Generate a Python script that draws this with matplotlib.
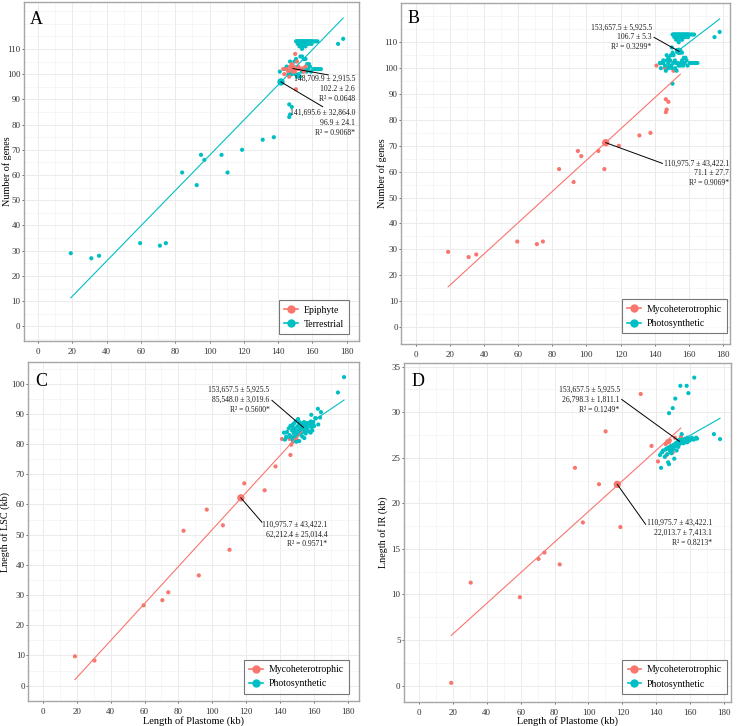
import numpy as np
import matplotlib
matplotlib.use("Agg")
import matplotlib.pyplot as plt
from matplotlib.lines import Line2D
from matplotlib.ticker import MultipleLocator

plt.rcParams["font.family"] = ["Liberation Serif", "DejaVu Serif"]

RED = "#F8766D"
TEAL = "#00BFC4"

# ---------- gene number (panels A and B) ----------
# mycoheterotrophic species (all terrestrial)
myco_len = [19, 31, 35.5, 59.5, 71, 74.5, 84, 92.5, 95, 97, 107, 110.5, 119, 131,
            137.5, 146.5, 147, 146.5, 148, 141, 146, 147.5, 149, 151, 155]
myco_genes = [29, 27, 28, 33, 32, 33, 61, 56, 68, 66, 68, 61, 70, 74,
              75, 83, 84, 88, 87, 101, 100, 100, 103, 99, 106]

# photosynthetic, terrestrial
photo_terr_len = [150.5, 151, 151.5, 152, 152.5, 153, 153.5, 154, 154.5, 155, 155.5, 156,
                  156.5, 157, 157.5, 158, 158.5, 159, 159.5, 160, 161, 162, 163,
                  151.5, 153, 154, 155.5, 157, 158, 159.5, 175,
                  152.5, 154.5, 156, 154, 178,
                  147, 149.5, 154, 156, 153, 150.5,
                  148, 150, 152.8, 157, 158.6, 160.5, 163.4, 165, 159.2, 156.7,
                  155.5, 154, 157.5, 161.5, 158, 145, 152, 144, 162.5, 164]
photo_terr_genes = [113, 113, 113, 113, 113, 113, 113, 113, 113, 113, 113, 113,
                    113, 113, 113, 113, 113, 113, 113, 113, 113, 113, 113,
                    112, 112, 112, 112, 112, 112, 112, 112,
                    111, 111, 111, 110, 114,
                    105, 105, 107, 106, 107, 106,
                    100, 100, 99, 104, 103, 102, 102, 102, 101, 101,
                    102, 101, 102, 102, 104, 103, 100, 102, 102, 102]

# photosynthetic, epiphyte
photo_epi_len = [143, 143.6, 145, 146, 147, 147.9, 148.5, 149, 149.8, 150.8, 151.8,
                 152.5, 153.7, 155.1, 156, 150.4, 150, 151, 148, 146.5]
photo_epi_genes = [102, 100, 102, 101, 103, 102, 101, 103, 101, 102, 103,
                   102, 102, 101, 103, 94, 108, 105, 104, 99]

# ---------- LSC / IR length (panels C and D) ----------
myco_len_c = [19, 30.5, 59.5, 70.5, 74, 83, 92, 96.7, 106.2, 110.1, 118.8, 130.8,
              137.2, 141, 146, 145.5, 146.5, 147.5, 148, 149.7, 151, 154.5]
myco_lsc = [9.7, 8.3, 26.6, 28.3, 30.9, 51.3, 36.5, 58.3, 53.1, 45.0, 67.0, 64.7,
            72.6, 81.7, 76.4, 81.7, 79.8, 80.8, 82.2, 81.5, 83.5, 84.5]
myco_ir = [0.3, 11.3, 9.7, 13.9, 14.6, 13.3, 23.9, 17.9, 22.1, 27.9, 17.4, 32.0,
           26.3, 24.6, 25.3, 26.5, 26.8, 26.7, 26.9, 25.6, 27.2, 27.3]

photo_len_c = [142.2, 142.8, 143.5, 144, 145, 145.5, 146, 146.5, 147, 147, 147.5, 147.5,
               148, 148, 148.5, 148.5, 149, 149, 149.5, 149.7, 150, 150, 150.5, 150.6,
               151, 151.2, 151.5, 151.5, 152, 152, 152.5, 152.5, 153, 153, 153.5, 153.5,
               154, 154, 154.2, 154.5, 155, 155, 155.5, 155.5, 156, 156, 156.5, 157,
               157, 157.5, 157.9, 158, 158.3, 158.5, 158.9, 159, 159.5, 160, 160.6, 161,
               162.2, 162.4, 163.5, 164, 174, 177.6]
photo_lsc = [83.8, 81.5, 82.5, 84.0, 85.2, 83.0, 86.0, 82.2, 84.5, 86.3, 85.5, 81.2,
             83.8, 86.8, 82.5, 85.0, 84.2, 87.5, 80.8, 83.5, 85.8, 82.8, 88.3, 84.6,
             86.5, 81.0, 84.0, 87.2, 85.3, 83.2, 86.8, 84.5, 85.8, 82.5, 86.2, 84.0,
             85.5, 87.3, 82.0, 84.8, 86.0, 83.5, 85.2, 87.0, 84.5, 86.5, 85.8, 87.0,
             84.2, 86.2, 83.8, 87.5, 89.7, 85.5, 84.5, 86.8, 87.3, 86.0, 88.6, 88.5,
             91.7, 86.5, 88.8, 90.6, 97.1, 102.2]
photo_ir = [25.3, 23.9, 25.6, 25.8, 25.1, 25.9, 26.0, 25.4, 24.5, 26.1, 24.3, 29.9,
            25.8, 26.2, 25.6, 26.0, 25.5, 26.3, 25.9, 30.45, 26.4, 26.0, 26.2, 24.9,
            26.5, 31.5, 26.3, 26.6, 26.4, 25.8, 26.7, 26.5, 26.6, 26.2, 26.8, 26.5,
            26.7, 26.9, 32.9, 26.6, 26.8, 27.6, 26.7, 27.0, 26.6, 26.9, 26.8, 27.1,
            26.7, 27.0, 32.9, 26.9, 26.7, 27.2, 32.1, 27.0, 26.9, 27.1, 27.0, 27.2,
            27.0, 33.8, 27.2, 27.1, 27.6, 27.05]

# regression lines (slope, intercept)
fit_a_epi = (0.12, 84.36)
fit_a_terr = (0.6976, -1.95)
fit_b_myco = (0.604, 4.02)
fit_b_photo = (0.506, 28.93)
fit_c_myco = (0.614, -9.67)
fit_c_photo = (0.38, 27.1)
fit_d_myco = (0.168, 2.31)
fit_d_photo = (0.106, 10.51)

# group mean markers
mean_a = [(148.7, 102.2), (141.7, 96.9)]
mean_b = [(111.3, 71.2), (154.2, 106.5)]
mean_c = [(116.8, 62.2), (153.7, 85.5)]
mean_d = [(117.0, 22.08), (153.7, 26.8)]

labels_a = ["148,709.9 ± 2,915.5\n102.2 ± 2.6\nR² = 0.0648",
            "141,695.6 ± 32,864.0\n96.9 ± 24.1\nR² = 0.9068*"]
labels_b = ["110,975.7 ± 43,422.1\n71.1 ± 27.7\nR² = 0.9069*",
            "153,657.5 ± 5,925.5\n106.7 ± 5.3\nR² = 0.3299*"]
labels_c = ["110,975.7 ± 43,422.1\n62,212.4 ± 25,014.4\nR² = 0.9571*",
            "153,657.5 ± 5,925.5\n85,548.0 ± 3,019.6\nR² = 0.5600*"]
labels_d = ["110,975.7 ± 43,422.1\n22,013.7 ± 7,413.1\nR² = 0.8213*",
            "153,657.5 ± 5,925.5\n26,798.3 ± 1,811.1\nR² = 0.1249*"]
# label anchor (right x, middle line y) and segment end
label_pos_a = [(184.9, 94.2, 169.3, 99.7), (184.9, 80.7, 166.0, 87.1)]
label_pos_b = [(183.5, 59.4, 144.5, 63.2), (138.2, 111.9, 139.6, 111.9)]
label_pos_c = [(167.9, 50.1, 129.2, 54.1), (133.7, 94.7, 135.1, 94.5)]
label_pos_d = [(173.0, 16.74, 133.7, 17.7), (118.4, 31.36, 119.6, 31.4)]

fig = plt.figure(figsize=(7.38, 7.26), dpi=100)


def px_axes(left, top, right, bottom):
    return fig.add_axes([left / 738, 1 - bottom / 726, (right - left) / 738, (bottom - top) / 726])


def style(ax, xlim, ylim, yticks, yminor):
    ax.set_xlim(*xlim)
    ax.set_ylim(*ylim)
    ax.set_xticks(np.arange(0, 181, 20))
    ax.xaxis.set_minor_locator(MultipleLocator(10))
    ax.set_yticks(yticks)
    ax.yaxis.set_minor_locator(MultipleLocator(yminor))
    ax.grid(which="major", color="#EBEBEB", lw=0.7)
    ax.grid(which="minor", color="#F3F3F3", lw=0.5)
    ax.set_axisbelow(True)
    ax.tick_params(which="minor", length=0)
    ax.tick_params(which="major", length=1.5, width=0.6, color="#555555",
                   labelsize=6.5, labelcolor="#333333", pad=1.0)
    ax.tick_params(axis="x", which="major", pad=3.5)
    for s in ax.spines.values():
        s.set_color("#A6A6A6")
        s.set_linewidth(1.0)


def draw_group(ax, xs, ys, fit, color):
    ax.scatter(xs, ys, s=9, color=color, edgecolors="none", zorder=2)
    xr = np.array([min(xs), max(xs)])
    ax.plot(xr, fit[0] * xr + fit[1], color=color, lw=0.8, zorder=3)


def annotate(ax, means, colors, labels, positions):
    for (mx, my), c, lab, (tx, ty, sx, sy) in zip(means, colors, labels, positions):
        ax.scatter([mx], [my], s=28, color=c, edgecolors="none", zorder=4)
        ax.plot([mx, sx], [my, sy], color="black", lw=0.7, zorder=5)
        ax.text(tx, ty, lab, ha="right", va="center", multialignment="right",
                fontsize=5.5, linespacing=1.3, color="#1a1a1a", zorder=6)


def legend(ax, names, anchor):
    handles = [Line2D([0], [0], color=c, marker="o", markersize=5, lw=1.2)
               for c in (RED, TEAL)]
    leg = ax.legend(handles, names, loc="lower right", bbox_to_anchor=anchor,
                    borderaxespad=0, fontsize=7, frameon=True, fancybox=False,
                    handlelength=1.4, handletextpad=0.6, labelspacing=0.55,
                    borderpad=0.55)
    leg.get_frame().set_edgecolor("#555555")
    leg.get_frame().set_linewidth(0.8)
    leg.set_zorder(10)


def panel_letter(ax, letter, x, y):
    ax.text(x, y, letter, transform=ax.transAxes, fontsize=13, ha="left", va="center")


# ---- A ----
axA = px_axes(24, 2, 359.3, 341)
style(axA, (-8.3, 187.4), (-5.8, 128.6), np.arange(0, 111, 10), 5)
draw_group(axA, myco_len + photo_terr_len, myco_genes + photo_terr_genes, fit_a_terr, TEAL)
draw_group(axA, photo_epi_len, photo_epi_genes, fit_a_epi, RED)
annotate(axA, mean_a, [RED, TEAL], labels_a, label_pos_a)
legend(axA, ["Epiphyte", "Terrestrial"], (0.970, 0.020))
panel_letter(axA, "A", 0.018, 0.949)
axA.text(-0.05, 0.5, "Number of genes", transform=axA.transAxes, rotation=90,
         ha="center", va="center", fontsize=7.3)

# ---- B ----
axB = px_axes(401.3, 2.7, 729.7, 344)
style(axB, (-8.4, 183.9), (-6.6, 125.3), np.arange(0, 111, 10), 5)
draw_group(axB, myco_len, myco_genes, fit_b_myco, RED)
draw_group(axB, photo_terr_len + photo_epi_len, photo_terr_genes + photo_epi_genes, fit_b_photo, TEAL)
annotate(axB, mean_b, [RED, TEAL], labels_b, label_pos_b)
legend(axB, ["Mycoheterotrophic", "Photosynthetic"], (0.993, 0.031))
panel_letter(axB, "B", 0.018, 0.954)
axB.text(-0.058, 0.5, "Number of genes", transform=axB.transAxes, rotation=90,
         ha="center", va="center", fontsize=7.3)

# ---- C ----
axC = px_axes(28.3, 362, 359.3, 701.3)
style(axC, (-8.5, 186.6), (-5.2, 107.2), np.arange(0, 101, 10), 5)
draw_group(axC, myco_len_c, myco_lsc, fit_c_myco, RED)
draw_group(axC, photo_len_c, photo_lsc, fit_c_photo, TEAL)
annotate(axC, mean_c, [RED, TEAL], labels_c, label_pos_c)
legend(axC, ["Mycoheterotrophic", "Photosynthetic"], (0.970, 0.022))
panel_letter(axC, "C", 0.020, 0.943)
axC.text(-0.070, 0.5, "Lnegth of LSC (kb)", transform=axC.transAxes, rotation=90,
         ha="center", va="center", fontsize=7.3)
axC.text(0.5, -0.059, "Length of Plastome (kb)", transform=axC.transAxes,
         ha="center", va="center", fontsize=7.5)

# ---- D ----
axD = px_axes(404, 363.3, 730.7, 702)
style(axD, (-8.85, 183.9), (-1.8, 35.37), np.arange(0, 36, 5), 2.5)
draw_group(axD, myco_len_c, myco_ir, fit_d_myco, RED)
draw_group(axD, photo_len_c, photo_ir, fit_d_photo, TEAL)
annotate(axD, mean_d, [RED, TEAL], labels_d, label_pos_d)
legend(axD, ["Mycoheterotrophic", "Photosynthetic"], (0.990, 0.024))
panel_letter(axD, "D", 0.024, 0.947)
axD.text(-0.064, 0.5, "Lnegth of IR (kb)", transform=axD.transAxes, rotation=90,
         ha="center", va="center", fontsize=7.3)
axD.text(0.5, -0.057, "Length of Plastome (kb)", transform=axD.transAxes,
         ha="center", va="center", fontsize=7.5)

fig.savefig("out.png", dpi=100)
